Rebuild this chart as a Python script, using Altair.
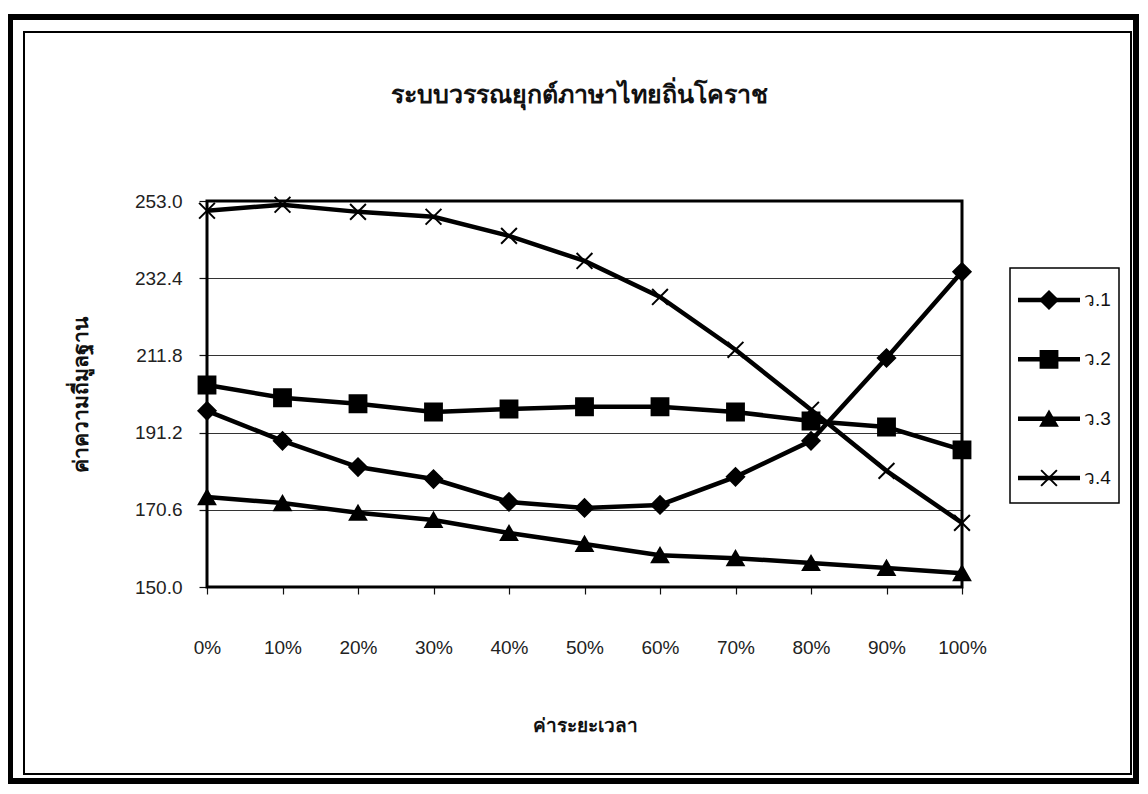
import altair as alt
import pandas as pd

# ---- data ----
x_labels = ["0%", "10%", "20%", "30%", "40%", "50%", "60%", "70%", "80%", "90%", "100%"]
series_names = ["ว.1", "ว.2", "ว.3", "ว.4"]
tone1 = [197.0, 189.0, 182.0, 178.8, 172.7, 171.1, 171.9, 179.4, 189.0, 211.1, 234.1]
tone2 = [203.9, 200.5, 198.9, 196.7, 197.5, 198.1, 198.1, 196.7, 194.3, 192.7, 186.6]
tone3 = [174.0, 172.4, 169.8, 167.9, 164.4, 161.5, 158.5, 157.7, 156.4, 155.1, 153.7]
tone4 = [250.4, 252.0, 250.1, 248.8, 243.7, 237.0, 227.4, 213.3, 197.3, 181.0, 167.1]
y_ticks = [150.0, 170.6, 191.2, 211.8, 232.4, 253.0]

title_text = "ระบบวรรณยุกต์ภาษาไทยถิ่นโคราช"
x_title = "ค่าระยะเวลา"
y_title = "ค่าความถี่มูลฐาน"

rows = []
for name, vals in zip(series_names, [tone1, tone2, tone3, tone4]):
    for t, v in zip(x_labels, vals):
        rows.append({"time": t, "f0": v, "tone": name})
df = pd.DataFrame(rows)
legend_df = pd.DataFrame({"tone": series_names})
one = pd.DataFrame({"k": [0]})
title_df = pd.DataFrame({"title": [title_text]})

W, H = 755, 386
FONT = "Liberation Sans"

shape_scale = alt.Scale(domain=series_names,
                        range=["diamond", "square", "triangle-up", "M-1,-1L1,1M-1,1L1,-1"])
size_scale = alt.Scale(domain=series_names, range=[300, 250, 330, 330])

x_enc = alt.X("time:O", sort=x_labels,
              scale=alt.Scale(type="point", padding=0),
              axis=alt.Axis(title=x_title, labelAngle=0, labelFontSize=19, labelColor="#222",
                            labelFont=FONT, tickSize=7, tickColor="#111", tickWidth=1.2,
                            domain=False, labelPadding=44, titleFontSize=19,
                            titleFontWeight="bold", titlePadding=59, titleColor="#111"))
y_enc = alt.Y("f0:Q",
              scale=alt.Scale(domain=[150, 253], nice=False, zero=False),
              axis=alt.Axis(title=y_title, values=y_ticks, format=".1f", labelFontSize=19,
                            labelColor="#222", labelFont=FONT, tickSize=8, tickColor="#111",
                            tickWidth=1.2, domain=False, labelPadding=17, grid=True,
                            gridColor="#333", gridWidth=1.2, titleFontSize=21,
                            titleFontWeight="bold", titlePadding=43, titleColor="#111"))

base = alt.Chart(df)
lines = base.mark_line(color="black", strokeWidth=4.5).encode(
    x=x_enc, y=y_enc, detail="tone:N")
points = base.mark_point(filled=True, color="black", stroke="black", strokeWidth=2,
                         opacity=1).encode(
    x=x_enc, y=y_enc,
    shape=alt.Shape("tone:N", scale=shape_scale, legend=None),
    size=alt.Size("tone:N", scale=size_scale, legend=None))
frame = alt.Chart(one).mark_rect(filled=False, stroke="black", strokeWidth=3).encode(
    x=alt.value(0), x2=alt.value(W), y=alt.value(0), y2=alt.value(H))
main = alt.layer(lines, frame, points)

# ---- legend drawn as its own layer ----
leg_y = alt.Y("tone:N", scale=alt.Scale(type="point", domain=series_names, range=[99, 277],
                                        padding=0), axis=None)
leg_base = alt.Chart(legend_df)
leg_lines = leg_base.mark_rule(color="black", strokeWidth=4.5).encode(
    x=alt.value(811), x2=alt.value(873), y=leg_y)
leg_pts = leg_base.mark_point(filled=True, color="black", stroke="black", strokeWidth=2,
                              opacity=1).encode(
    x=alt.value(842), y=leg_y,
    shape=alt.Shape("tone:N", scale=shape_scale, legend=None),
    size=alt.Size("tone:N", scale=size_scale, legend=None))
leg_text = leg_base.mark_text(align="left", baseline="middle", fontSize=19, font=FONT,
                              color="#111").encode(
    x=alt.value(877), y=leg_y, text="tone:N")
leg_box = alt.Chart(one).mark_rect(filled=False, stroke="black", strokeWidth=1.5).encode(
    x=alt.value(803), x2=alt.value(912), y=alt.value(67), y2=alt.value(302))
legend = alt.layer(leg_box, leg_lines, leg_pts, leg_text)

# ---- title and page frames ----
title = alt.Chart(title_df).mark_text(align="center", baseline="middle", fontSize=25,
                                      fontWeight="bold", font=FONT, color="#111").encode(
    x=alt.value(W / 2 - 5), y=alt.value(-106), text="title:N")
outer = alt.Chart(one).mark_rect(filled=False, stroke="black", strokeWidth=6).encode(
    x=alt.value(-197), x2=alt.value(929), y=alt.value(-184), y2=alt.value(580))
inner = alt.Chart(one).mark_rect(filled=False, stroke="black", strokeWidth=2).encode(
    x=alt.value(-183), x2=alt.value(924), y=alt.value(-169), y2=alt.value(573))

chart = alt.layer(outer, inner, title, main, legend).resolve_scale(
    y="independent").properties(
    width=W, height=H,
    autosize=alt.AutoSizeParams(type="none"),
    padding={"left": 199, "top": 193, "right": 178, "bottom": 199},
).configure_view(stroke=None).configure(background="white")

chart.save("out.html", embed_options={"renderer": "svg", "actions": False})
